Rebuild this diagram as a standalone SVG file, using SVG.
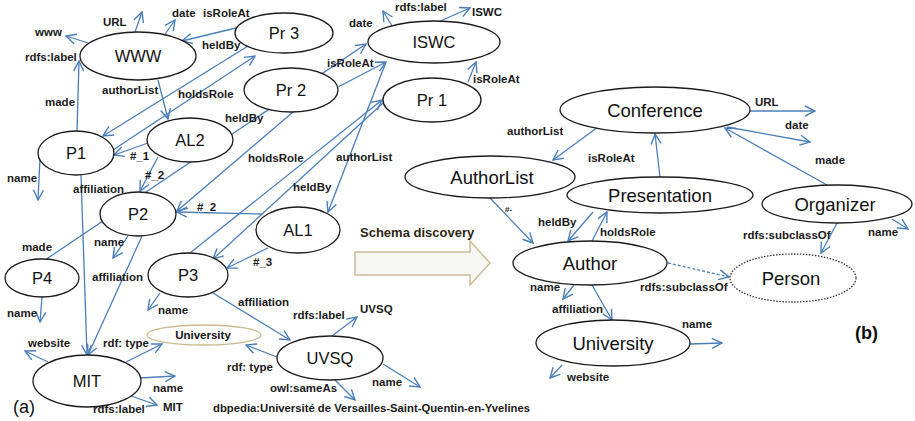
<svg xmlns="http://www.w3.org/2000/svg" width="915" height="421" viewBox="0 0 915 421">
<style>
.n ellipse{fill:#fff;stroke:#1a1a1a;stroke-width:1.3}
.n text{font-family:"Liberation Sans",Arial,sans-serif;font-size:16.5px;fill:#111;text-anchor:middle}
.r text{font-size:18.5px}
.e line{stroke:#4a7ebb;stroke-width:1.3;marker-end:url(#a)}
.l{font-family:"Liberation Sans",Arial,sans-serif;font-size:11.5px;font-weight:bold;fill:#1a1a1a}
</style>
<defs>
<marker id="a" viewBox="0 0 12 12" refX="11" refY="6" markerWidth="12" markerHeight="12" markerUnits="userSpaceOnUse" orient="auto">
<path d="M1,1 L11,6 L1,11" fill="none" stroke="#4a7ebb" stroke-width="1.4"/>
</marker>
</defs>
<rect width="915" height="421" fill="#fff"/>
<g id="connectors" class="e">
<line x1="88" y1="43" x2="66" y2="36"/>
<line x1="135" y1="32" x2="142" y2="12"/>
<line x1="163" y1="37" x2="175" y2="20"/>
<line x1="240" y1="27" x2="182" y2="41"/>
<line x1="248" y1="46" x2="103" y2="136"/>
<line x1="113" y1="150" x2="255" y2="56"/>
<line x1="158" y1="80" x2="168" y2="119"/>
<line x1="148" y1="143" x2="114" y2="155"/>
<line x1="158" y1="157" x2="140" y2="191"/>
<line x1="81" y1="175" x2="87" y2="355"/>
<line x1="40" y1="158" x2="38" y2="200"/>
<line x1="77" y1="131" x2="79" y2="61"/>
<line x1="45" y1="260" x2="366" y2="44"/>
<line x1="338" y1="87" x2="386" y2="62"/>
<line x1="293" y1="112" x2="177" y2="211"/>
<line x1="262" y1="214" x2="177" y2="212"/>
<line x1="268" y1="248" x2="227" y2="268"/>
<line x1="386" y1="62" x2="328" y2="212"/>
<line x1="383" y1="103" x2="213" y2="259"/>
<line x1="190" y1="253" x2="382" y2="100"/>
<line x1="468" y1="82" x2="476" y2="62"/>
<line x1="392" y1="26" x2="383" y2="11"/>
<line x1="438" y1="22" x2="470" y2="8"/>
<line x1="128" y1="236" x2="113" y2="258"/>
<line x1="142" y1="236" x2="88" y2="355"/>
<line x1="42" y1="297" x2="40" y2="322"/>
<line x1="160" y1="293" x2="148" y2="310"/>
<line x1="213" y1="293" x2="290" y2="340"/>
<line x1="48" y1="362" x2="25" y2="351"/>
<line x1="126" y1="362" x2="162" y2="344"/>
<line x1="140" y1="378" x2="175" y2="376"/>
<line x1="131" y1="396" x2="157" y2="405"/>
<line x1="277" y1="357" x2="246" y2="345"/>
<line x1="332" y1="336" x2="357" y2="317"/>
<line x1="333" y1="378" x2="355" y2="400"/>
<line x1="383" y1="364" x2="420" y2="387"/>
<line x1="750" y1="111" x2="815" y2="111"/>
<line x1="727" y1="127" x2="810" y2="142"/>
<line x1="827" y1="185" x2="725" y2="128"/>
<line x1="660" y1="177" x2="655" y2="134"/>
<line x1="598" y1="127" x2="553" y2="160"/>
<line x1="490" y1="198" x2="533" y2="243"/>
<line x1="593" y1="212" x2="568" y2="241"/>
<line x1="592" y1="241" x2="607" y2="212"/>
<line x1="668" y1="263" x2="729" y2="277" stroke-dasharray="3,2"/>
<line x1="837" y1="223" x2="821" y2="253"/>
<line x1="892" y1="219" x2="908" y2="229"/>
<line x1="574" y1="285" x2="563" y2="299"/>
<line x1="592" y1="285" x2="612" y2="320"/>
<line x1="690" y1="344" x2="722" y2="343"/>
<line x1="562" y1="365" x2="550" y2="378"/>
</g>
<g id="edge-labels" class="l">
<text x="103" y="26">URL</text>
<text x="35" y="36">www</text>
<text x="172" y="17">date</text>
<text x="203" y="17">isRoleAt</text>
<text x="25" y="61">rdfs:label</text>
<text x="202" y="49">heldBy</text>
<text x="45" y="106">made</text>
<text x="102" y="94">authorList</text>
<text x="178" y="98">holdsRole</text>
<text x="225" y="122">heldBy</text>
<text x="327" y="67">isRoleAt</text>
<text x="395" y="11">rdfs:label</text>
<text x="472" y="16">ISWC</text>
<text x="349" y="27">date</text>
<text x="473" y="83">isRoleAt</text>
<text x="7" y="182">name</text>
<text x="73" y="193">affiliation</text>
<text x="130" y="160">#_1</text>
<text x="145" y="179">#_2</text>
<text x="197" y="211">#_2</text>
<text x="248" y="162">holdsRole</text>
<text x="336" y="161">authorList</text>
<text x="293" y="191">heldBy</text>
<text x="22" y="251">made</text>
<text x="94" y="246">name</text>
<text x="92" y="281">affiliation</text>
<text x="253" y="266">#_3</text>
<text x="158" y="314">name</text>
<text x="238" y="306">affiliation</text>
<text x="7" y="317">name</text>
<text x="28" y="347">website</text>
<text x="103" y="347">rdf: type</text>
<text x="153" y="392">name</text>
<text x="93" y="413">rdfs:label</text>
<text x="163" y="411">MIT</text>
<text x="293" y="319">rdfs:label</text>
<text x="360" y="313">UVSQ</text>
<text x="227" y="371">rdf: type</text>
<text x="270" y="392">owl:sameAs</text>
<text x="372" y="386">name</text>
<text x="213" y="412" font-size="11.3">dbpedia:Université de Versailles-Saint-Quentin-en-Yvelines</text>
<text x="755" y="106">URL</text>
<text x="785" y="129">date</text>
<text x="815" y="164">made</text>
<text x="507" y="135">authorList</text>
<text x="588" y="162">isRoleAt</text>
<text x="505" y="212" font-size="8">#-</text>
<text x="538" y="226">heldBy</text>
<text x="600" y="236">holdsRole</text>
<text x="743" y="239">rdfs:subclassOf</text>
<text x="868" y="236">name</text>
<text x="640" y="291">rdfs:subclassOf</text>
<text x="530" y="291">name</text>
<text x="552" y="313">affiliation</text>
<text x="682" y="328">name</text>
<text x="567" y="381">website</text>
</g>
<g id="node-WWW" class="n"><ellipse cx="138" cy="56" rx="58" ry="24"/><text x="138" y="62">WWW</text></g>
<g id="node-Pr3" class="n"><ellipse cx="284" cy="33" rx="49" ry="20"/><text x="284" y="39">Pr 3</text></g>
<g id="node-ISWC" class="n"><ellipse cx="434" cy="42" rx="66" ry="21"/><text x="434" y="48">ISWC</text></g>
<g id="node-Pr2" class="n"><ellipse cx="291" cy="90" rx="47" ry="22"/><text x="291" y="96">Pr 2</text></g>
<g id="node-Pr1" class="n"><ellipse cx="432" cy="100" rx="49" ry="22"/><text x="432" y="106">Pr 1</text></g>
<g id="node-P1" class="n"><ellipse cx="76" cy="153" rx="38" ry="22"/><text x="76" y="159">P1</text></g>
<g id="node-AL2" class="n"><ellipse cx="190" cy="140" rx="43" ry="22"/><text x="190" y="146">AL2</text></g>
<g id="node-P2" class="n"><ellipse cx="138" cy="214" rx="38" ry="22"/><text x="138" y="220">P2</text></g>
<g id="node-AL1" class="n"><ellipse cx="298" cy="230" rx="42" ry="23"/><text x="298" y="236">AL1</text></g>
<g id="node-P3" class="n"><ellipse cx="188" cy="275" rx="40" ry="22"/><text x="188" y="281">P3</text></g>
<g id="node-P4" class="n"><ellipse cx="42" cy="278" rx="37" ry="19"/><text x="42" y="284">P4</text></g>
<g id="node-MIT" class="n"><ellipse cx="87" cy="381" rx="54" ry="26"/><text x="87" y="387">MIT</text></g>
<g id="node-UniversityClass" class="n"><ellipse cx="204" cy="335" rx="57" ry="10" style="stroke:#c9bb8f"/><text x="203" y="339" style="font-size:11.5px;font-weight:bold">University</text></g>
<g id="node-UVSQ" class="n"><ellipse cx="330" cy="358" rx="53" ry="22"/><text x="330" y="364">UVSQ</text></g>
<g id="node-Conference" class="n r"><ellipse cx="655" cy="110" rx="95" ry="23"/><text x="655" y="117">Conference</text></g>
<g id="node-AuthorList" class="n r"><ellipse cx="490" cy="177" rx="85" ry="21"/><text x="492" y="184">AuthorList</text></g>
<g id="node-Presentation" class="n r"><ellipse cx="660" cy="195" rx="93" ry="18"/><text x="660" y="202">Presentation</text></g>
<g id="node-Organizer" class="n r"><ellipse cx="837" cy="204" rx="75" ry="19"/><text x="835" y="211">Organizer</text></g>
<g id="node-Author" class="n r"><ellipse cx="590" cy="263" rx="77" ry="22"/><text x="590" y="270">Author</text></g>
<g id="node-Person" class="n r"><ellipse cx="793" cy="278" rx="63" ry="24" style="stroke-dasharray:1.5,1.5;stroke:#333"/><text x="791" y="285">Person</text></g>
<g id="node-University" class="n r"><ellipse cx="613" cy="343" rx="77" ry="23"/><text x="613" y="350">University</text></g>
<g id="schema-arrow">
<polygon points="355,252 470,252 470,241 490,263 470,285 470,275 355,275" fill="#f6f6f2" stroke="#c9bd9b" stroke-width="1.5"/>
<text x="360" y="237" font-family="'Liberation Sans',Arial,sans-serif" font-size="13" font-weight="bold" fill="#2e2614">Schema discovery</text>
</g>
<text x="13" y="413" font-family="'Liberation Sans',Arial,sans-serif" font-size="18" fill="#111">(a)</text>
<text x="855" y="339" font-family="'Liberation Sans',Arial,sans-serif" font-size="18" font-weight="bold" fill="#111">(b)</text>
</svg>
